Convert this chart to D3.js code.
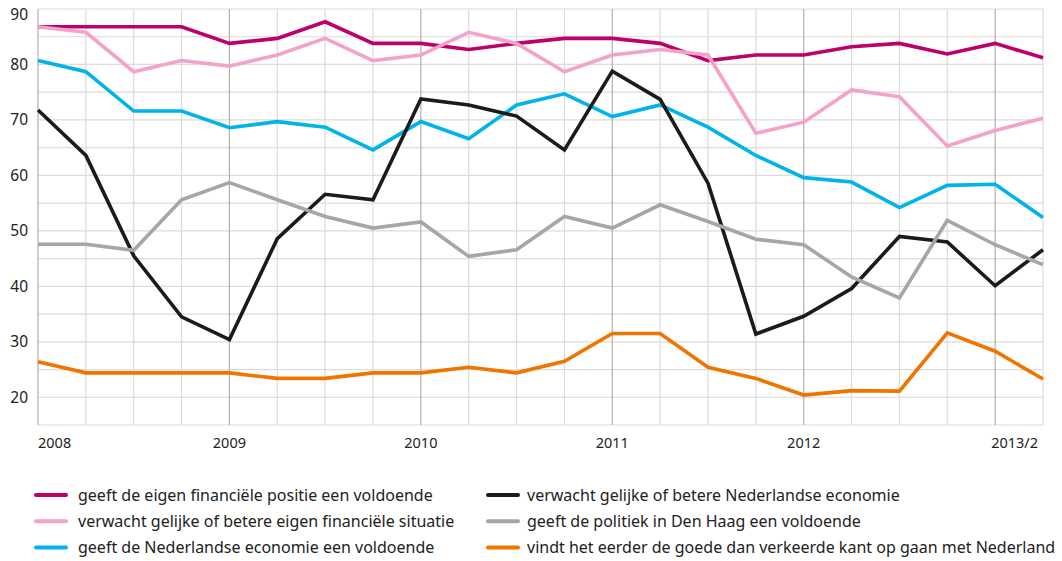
<!DOCTYPE html>
<html>
<head>
<meta charset="utf-8">
<script src="https://cdn.jsdelivr.net/npm/d3@7"></script>
<style>
  body { margin: 0; background: #fff; }
  svg text { font-family: "Noto Sans", "Open Sans", sans-serif; fill: #222; }
</style>
</head>
<body>
<div id="chart"></div>
<script>
// kwartalen 2008 t/m 2013/2
const quarters = d3.range(22);
const tickLabels = ["2008", "2009", "2010", "2011", "2012", "2013/2"];
const tickQuarters = [0, 4, 8, 12, 16, 20];

const seriesNames = [
  "geeft de eigen financiële positie een voldoende",
  "verwacht gelijke of betere eigen financiële situatie",
  "geeft de Nederlandse economie een voldoende",
  "verwacht gelijke of betere Nederlandse economie",
  "geeft de politiek in Den Haag een voldoende",
  "vindt het eerder de goede dan verkeerde kant op gaan met Nederland"
];
const seriesColors = ["#bd006b", "#f4a2c8", "#00b3ea", "#1b1b1d", "#aaa4a6", "#f07400"];

const eigenPositie = [86.8, 86.8, 86.8, 86.8, 83.8, 84.7, 87.7, 83.8, 83.8, 82.7, 83.8, 84.7, 84.7, 83.8, 80.7, 81.7, 81.7, 83.2, 83.8, 81.9, 83.8, 81.2];
const eigenVerwacht = [86.8, 85.8, 78.7, 80.7, 79.7, 81.7, 84.7, 80.7, 81.7, 85.8, 83.8, 78.7, 81.7, 82.7, 81.7, 67.6, 69.6, 75.4, 74.2, 65.3, 68.1, 70.3];
const economie = [80.7, 78.7, 71.6, 71.6, 68.6, 69.7, 68.7, 64.6, 69.7, 66.6, 72.7, 74.7, 70.6, 72.7, 68.7, 63.6, 59.6, 58.8, 54.2, 58.2, 58.4, 52.4];
const economieVerwacht = [71.8, 63.6, 45.5, 34.5, 30.4, 48.6, 56.6, 55.6, 73.8, 72.7, 70.7, 64.6, 78.8, 73.7, 58.6, 31.4, 34.6, 39.6, 49.0, 48.0, 40.1, 46.6];
const politiek = [47.6, 47.6, 46.5, 55.6, 58.7, 55.6, 52.6, 50.5, 51.6, 45.4, 46.6, 52.6, 50.5, 54.7, 51.7, 48.5, 47.5, 41.7, 37.9, 51.9, 47.5, 43.9];
const goedeKant = [26.4, 24.4, 24.4, 24.4, 24.4, 23.4, 23.4, 24.4, 24.4, 25.4, 24.4, 26.5, 31.5, 31.5, 25.4, 23.4, 20.4, 21.2, 21.1, 31.6, 28.3, 23.3];

const series = [eigenPositie, eigenVerwacht, economie, economieVerwacht, politiek, goedeKant];

const width = 1062, height = 561;
const margin = { top: 9, left: 38, right: 19, bottom: 136 };

const svg = d3.select("#chart").append("svg")
    .attr("width", width)
    .attr("height", height);

const x = d3.scaleLinear()
    .domain([0, 21])
    .range([margin.left, width - margin.right]);

const y = d3.scaleLinear()
    .domain([15, 90])
    .range([height - margin.bottom, margin.top]);

// raster
const grid = svg.append("g");
grid.selectAll("line.h")
    .data(d3.range(15, 91, 5))
    .enter().append("line")
    .attr("x1", margin.left).attr("x2", width - margin.right)
    .attr("y1", d => y(d)).attr("y2", d => y(d))
    .attr("stroke", "#dddbdc").attr("stroke-width", 1.2);

grid.selectAll("line.v")
    .data(quarters)
    .enter().append("line")
    .attr("x1", d => x(d)).attr("x2", d => x(d))
    .attr("y1", y(15)).attr("y2", y(90))
    .attr("stroke", d => (d % 4 === 0) ? "#b4aeb1" : "#dddbdc")
    .attr("stroke-width", 1.2);

// y labels
svg.append("g").selectAll("text")
    .data(d3.range(20, 91, 10))
    .enter().append("text")
    .attr("x", 28)
    .attr("y", d => d === 90 ? y(d) + 6 : y(d))
    .attr("dy", "0.35em")
    .attr("text-anchor", "end")
    .style("font-size", "15.5px")
    .text(d => d);

// x labels
svg.append("g").selectAll("text")
    .data(tickQuarters)
    .enter().append("text")
    .attr("x", (d, i) => i === 0 ? x(d) : (i === tickLabels.length - 1 ? x(d) - 4 : x(d)))
    .attr("y", 448)
    .attr("text-anchor", (d, i) => (i === 0 || i === tickLabels.length - 1) ? "start" : "middle")
    .style("font-size", "14.5px")
    .text((d, i) => tickLabels[i]);

// lijnen
const line = d3.line()
    .x((d, i) => x(quarters[i]))
    .y(d => y(d));

svg.append("g").selectAll("path")
    .data(series)
    .enter().append("path")
    .attr("fill", "none")
    .attr("stroke", (d, i) => seriesColors[i])
    .attr("stroke-width", 3.6)
    .attr("stroke-linejoin", "miter")
    .attr("d", line);

// legenda
const legend = svg.append("g").selectAll("g")
    .data(seriesNames)
    .enter().append("g")
    .attr("transform", (d, i) => "translate(" + (i < 3 ? 36 : 488) + "," + (495 + (i % 3) * 26.2) + ")");

legend.append("line")
    .attr("x1", 0).attr("x2", 30)
    .attr("stroke", (d, i) => seriesColors[i])
    .attr("stroke-width", 4)
    .attr("stroke-linecap", "round");

legend.append("text")
    .attr("x", (d, i) => i < 3 ? 42 : 39)
    .attr("dy", "0.35em")
    .style("font-size", "16px")
    .text(d => d);
</script>
</body>
</html>
